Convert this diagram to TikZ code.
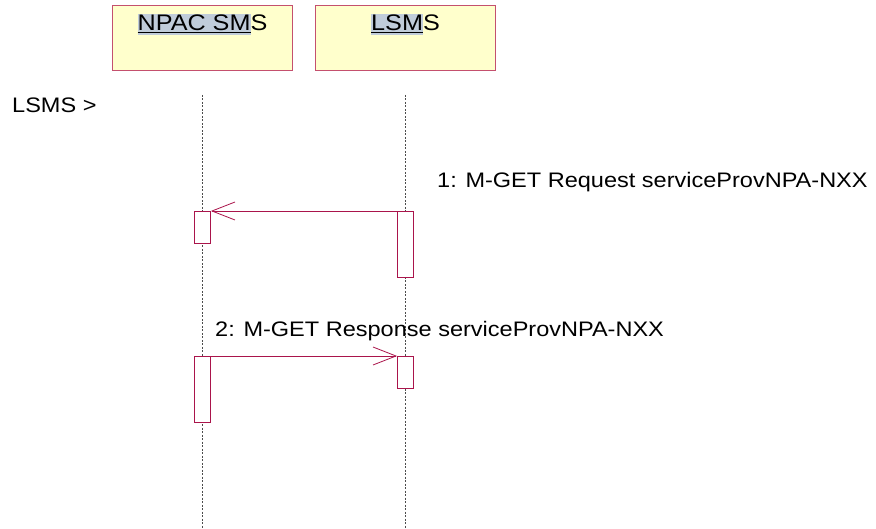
\documentclass[tikz,border=0pt]{standalone}
\usepackage{fontspec}
\setmainfont{Liberation Sans}[FakeStretch=1.12]
\usetikzlibrary{arrows.meta}

\definecolor{boxfill}{RGB}{255,255,204}
\definecolor{boxline}{RGB}{196,80,110}
\definecolor{msgline}{RGB}{170,20,75}
\definecolor{selblue}{RGB}{192,204,218}

\newcommand{\selpart}[1]{{\setlength\fboxsep{0pt}\colorbox{selblue}{\rule[-4pt]{0pt}{21pt}\underline{#1}}}}

\begin{document}
\begin{tikzpicture}[x=1pt,y=-1pt,
  font=\fontsize{21}{25}\selectfont,
  obj/.style={draw=boxline, fill=boxfill, line width=1pt, minimum width=180pt, minimum height=65pt, inner sep=0pt},
  objname/.style={anchor=base, font=\fontsize{22.5}{26}\selectfont},
  act/.style={draw=msgline, fill=white, line width=0.8pt, minimum width=16pt, inner sep=0pt, anchor=north},
  msg/.style={draw=msgline, line width=0.8pt, -{Straight Barb[length=23pt,width=18pt,line width=0.8pt]}},
  life/.style={draw=black!70, line width=0.5pt, dash pattern=on 2pt off 1.5pt}]
 \useasboundingbox (0,0) rectangle (876,529);
 % objects
 \node (npac) [obj, anchor=north west] at (112,5) {};
 \node (lsms) [obj, anchor=north west] at (315,5) {};
 \node (npacname) [objname] at (202.5,31) {\selpart{NPAC SM}S};
 \node (lsmsname) [objname] at (405.5,31) {\selpart{LSM}S};
 % lifelines
 \coordinate (nTop) at (202.5,95);
 \coordinate (nBot) at (202.5,529);
 \coordinate (lTop) at (405.5,95);
 \coordinate (lBot) at (405.5,529);
 \draw[life] (nTop) -- (nBot);
 \draw[life] (lTop) -- (lBot);
 \node (title) [anchor=base west, inner sep=0pt] at (12,113) {LSMS >};
 % activations
 \node (actN1) [act, minimum height=32pt] at (202.5,211) {};
 \node (actL1) [act, minimum height=66pt] at (405.5,211) {};
 \node (actN2) [act, minimum height=66pt] at (202.5,356) {};
 \node (actL2) [act, minimum height=32pt] at (405.5,356) {};
 % messages
 \draw[msg] (actL1.north west) -- (actN1.north east);
 \draw[msg] (actN2.north east) -- (actL2.north west);
 \node (msg1) [anchor=base west, inner sep=0pt] at (437,188) {1: M-GET Request serviceProvNPA-NXX};
 \node (msg2) [anchor=base west, inner sep=0pt] at (215,337) {2: M-GET Response serviceProvNPA-NXX};
\end{tikzpicture}
\end{document}
